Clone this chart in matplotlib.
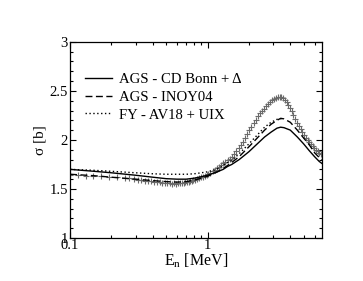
import matplotlib
matplotlib.use("Agg")
import matplotlib.pyplot as plt
from matplotlib.ticker import MultipleLocator, LogLocator, NullFormatter, FixedLocator, FixedFormatter

plt.rcParams['font.family'] = ['Liberation Serif', 'DejaVu Serif']
plt.rcParams['mathtext.fontset'] = 'custom'
plt.rcParams['mathtext.rm'] = 'Liberation Serif'
plt.rcParams['mathtext.it'] = 'Liberation Serif:italic'

# measured cross section (gray crosses)
E_data = [0.100, 0.114, 0.130, 0.148, 0.169, 0.192, 0.219, 0.250,
          0.27, 0.29, 0.31, 0.33, 0.35, 0.37, 0.39, 0.41, 0.43, 0.45, 0.47, 0.49,
          0.51, 0.53, 0.55, 0.57, 0.59, 0.61, 0.63, 0.65, 0.67, 0.69, 0.71, 0.73,
          0.75, 0.77, 0.79, 0.81, 0.84, 0.87, 0.90, 0.93, 0.96, 0.99,
          1.01, 1.05, 1.09, 1.13, 1.17, 1.21, 1.25, 1.30, 1.35, 1.40, 1.45,
          1.50, 1.56, 1.62, 1.68, 1.74, 1.80, 1.87, 1.94, 2.01, 2.08, 2.16,
          2.24, 2.32, 2.40, 2.48, 2.57, 2.66, 2.75, 2.85, 2.95, 3.05, 3.15,
          3.25, 3.35, 3.45, 3.55, 3.65, 3.76, 3.87, 3.98, 4.10, 4.22, 4.35,
          4.48, 4.61, 4.75, 4.90, 5.05, 5.20, 5.35, 5.50, 5.66, 5.82, 5.98,
          6.15, 6.32, 6.50, 6.68]
sig_data = [1.64, 1.64, 1.635, 1.635, 1.63, 1.625, 1.62, 1.615,
            1.61, 1.60, 1.595, 1.59, 1.585, 1.585, 1.58, 1.575, 1.575, 1.57, 1.565, 1.565,
            1.56, 1.56, 1.555, 1.56, 1.555, 1.56, 1.56, 1.565, 1.565, 1.57, 1.575, 1.575,
            1.58, 1.58, 1.59, 1.59, 1.60, 1.61, 1.62, 1.625, 1.635, 1.645,
            1.65, 1.66, 1.68, 1.69, 1.71, 1.72, 1.74, 1.76, 1.78, 1.80, 1.81,
            1.83, 1.86, 1.89, 1.92, 1.95, 1.98, 2.02, 2.06, 2.10, 2.13, 2.17,
            2.20, 2.24, 2.27, 2.30, 2.32, 2.35, 2.37, 2.39, 2.41, 2.42, 2.43,
            2.44, 2.44, 2.435, 2.43, 2.41, 2.39, 2.36, 2.33, 2.29, 2.25, 2.21,
            2.17, 2.14, 2.11, 2.08, 2.05, 2.02, 2.00, 1.98, 1.96, 1.94, 1.92,
            1.90, 1.89, 1.87, 1.86]

# AGS - CD Bonn + Delta
E_cdb = [0.1, 0.15, 0.2, 0.3, 0.4, 0.5, 0.6, 0.7, 0.8, 0.9, 1.0, 1.1, 1.2, 1.3, 1.4,
         1.5, 1.7, 2.0, 2.3, 2.6, 2.9, 3.2, 3.4, 3.6, 4.0, 4.5, 5.0, 5.5, 6.0, 6.5, 6.8]
sig_cdb = [1.70, 1.68, 1.665, 1.64, 1.62, 1.605, 1.60, 1.60, 1.61, 1.625, 1.64, 1.66,
           1.68, 1.70, 1.73, 1.75, 1.80, 1.88, 1.96, 2.03, 2.08, 2.12, 2.13, 2.125,
           2.10, 2.03, 1.96, 1.89, 1.83, 1.78, 1.76]

# AGS - INOY04
E_inoy = [0.1, 0.15, 0.2, 0.3, 0.4, 0.5, 0.6, 0.7, 0.8, 0.9, 1.0, 1.1, 1.2, 1.3, 1.4,
          1.5, 1.7, 2.0, 2.3, 2.6, 2.9, 3.2, 3.4, 3.6, 4.0, 4.5, 5.0, 5.5, 6.0, 6.5, 6.8]
sig_inoy = [1.65, 1.635, 1.62, 1.60, 1.585, 1.575, 1.57, 1.575, 1.59, 1.61, 1.63, 1.655,
            1.68, 1.71, 1.74, 1.77, 1.83, 1.93, 2.02, 2.10, 2.16, 2.20, 2.22, 2.215,
            2.18, 2.10, 2.02, 1.95, 1.87, 1.82, 1.80]

# FY - AV18 + UIX
E_av18 = [0.1, 0.15, 0.2, 0.3, 0.4, 0.5, 0.6, 0.7, 0.8, 0.9, 1.0, 1.1, 1.2, 1.3, 1.4,
          1.5, 1.7, 2.0, 2.3, 2.6, 2.9, 3.2, 3.5]
sig_av18 = [1.70, 1.69, 1.68, 1.665, 1.655, 1.65, 1.65, 1.65, 1.655, 1.665, 1.675, 1.69,
            1.71, 1.74, 1.77, 1.79, 1.86, 1.96, 2.05, 2.13, 2.18, 2.21, 2.22]

fig = plt.figure(figsize=(3.63, 2.81), dpi=100)
ax = fig.add_axes([0.193, 0.153, 0.694, 0.698])

ax.plot(E_data, sig_data, linestyle='none', marker='+', ms=5, mew=0.8,
        color='#6a6a6a', zorder=1)
ax.plot(E_cdb, sig_cdb, '-', color='black', lw=1.0, label='AGS - CD Bonn + Δ')
ax.plot(E_inoy, sig_inoy, '--', color='black', lw=1.0, dashes=(5, 2.5),
        label='AGS - INOY04')
ax.plot(E_av18, sig_av18, ':', color='black', lw=1.0, dashes=(1, 1.8),
        label='FY - AV18 + UIX')

ax.set_xscale('log')
ax.set_xlim(0.1, 6.8)
ax.set_ylim(1, 3)
ax.xaxis.set_major_locator(FixedLocator([0.1, 1]))
ax.xaxis.set_major_formatter(FixedFormatter(['0.1', '1']))
ax.xaxis.set_minor_locator(LogLocator(base=10, subs=range(2, 10)))
ax.xaxis.set_minor_formatter(NullFormatter())
ax.set_yticks([1, 1.5, 2, 2.5, 3])
ax.set_yticklabels(['1', '1.5', '2', '2.5', '3'])
ax.yaxis.set_minor_locator(MultipleLocator(0.1))

ax.tick_params(which='both', direction='in', top=True, right=True,
               labelsize=10.5, width=0.8)
ax.tick_params(axis='x', pad=0.5)
ax.tick_params(axis='y', pad=1.5)
ax.tick_params(which='major', length=4)
ax.tick_params(which='minor', length=2.2)
for s in ax.spines.values():
    s.set_linewidth(0.9)

ax.set_xlabel(r'$\mathrm{E_n}$ [MeV]', fontsize=11.5, labelpad=0)
ax.set_ylabel('σ [b]', fontsize=11, labelpad=2)

ax.legend(loc='upper left', bbox_to_anchor=(0.06, 0.842), frameon=False,
          fontsize=10.6, handlelength=1.85, handletextpad=0.45, labelspacing=0.3,
          borderpad=0, borderaxespad=0)

fig.savefig('out.png', dpi=100)
